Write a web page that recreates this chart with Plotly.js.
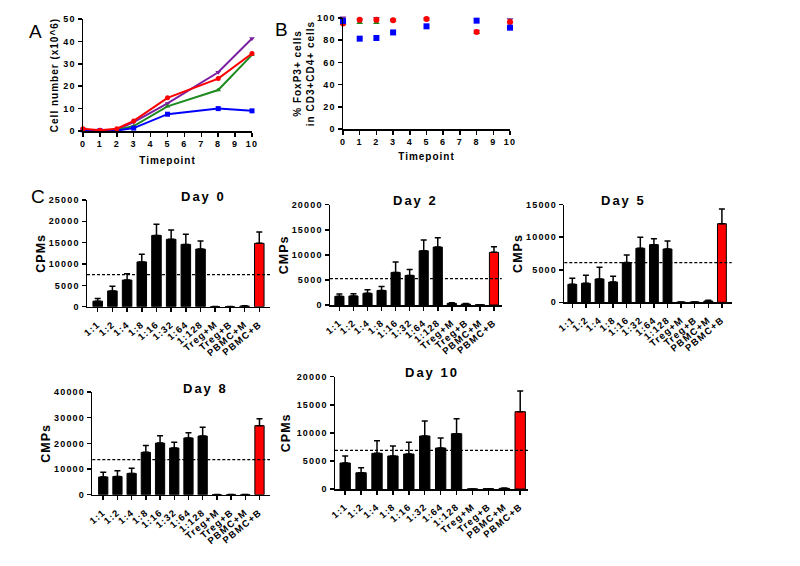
<!DOCTYPE html>
<html><head><meta charset="utf-8">
<script src="https://cdn.plot.ly/plotly-3.0.1.min.js"></script>
<style>
body{margin:0;padding:0;background:#fff;}
#chart{width:800px;height:566px;}
svg text{letter-spacing:1.2px;}
svg text[class$="title"]{letter-spacing:1px;}
svg text.annotation-text{letter-spacing:2px;}
</style>
</head><body>
<div id="chart"></div>
<script>
// Panel A: cell numbers
const timepoints = [0, 1, 2, 3, 5, 8, 10];
const cellsPurple = [0.5, 0.3, 0.5, 4, 12.3, 26.2, 41.3];
const cellsRed    = [1.0, 0.3, 1.0, 4.5, 14.8, 23.4, 34.6];
const cellsGreen  = [0.5, 0.3, 0.5, 2.2, 11.0, 18.3, 34.0];
const cellsBlue   = [0.5, 0.2, 0.2, 1.3, 7.5, 10.0, 9.0];

// Panel B: % FoxP3+
const foxPurple = [100, 98, 99.5, 98, 99, 88, 98.5];
const foxGreen  = [95, 96, 96, 98, 99, 87, 97];
const foxRed    = [95, 98.5, 98.5, 98, 99, 87.5, 96.5];
const foxBlue   = [97.3, 81.4, 82, 87, 92.5, 97.6, 91.3];

// Panel C: CPMs
const conditions = ["1:1","1:2","1:4","1:8","1:16","1:32","1:64","1:128","Treg+M","Treg+B","PBMC+M","PBMC+B"];
const day0  = [1300, 3700, 6250, 10500, 16700, 15800, 14600, 13500, 30, 30, 150, 14850];
const day0E = [600, 1100, 1450, 1800, 2600, 2200, 2400, 1900, 0, 0, 100, 2650];
const day2  = [1730, 1800, 2330, 2900, 6500, 5900, 10800, 11550, 330, 200, 50, 10500];
const day2E = [470, 460, 730, 800, 2070, 1200, 2150, 1850, 120, 100, 0, 1100];
const day5  = [2760, 2920, 3580, 3120, 6100, 8300, 8860, 8190, 30, 60, 200, 12080];
const day5E = [930, 1230, 1800, 880, 1170, 1680, 920, 1230, 0, 0, 100, 2250];
const day8  = [6900, 7100, 8300, 16500, 20100, 18200, 22100, 22860, 50, 100, 100, 26900];
const day8E = [1800, 2200, 1960, 2700, 2900, 2200, 2050, 3370, 0, 0, 0, 2700];
const day10  = [4630, 2900, 6350, 5880, 6230, 9440, 7300, 9850, 20, 60, 120, 13770];
const day10E = [1250, 900, 2250, 1780, 2080, 2660, 1780, 2670, 0, 0, 60, 3680];
const thresholds = [7500, 5250, 6100, 13640, 6880];
const dayTitles = ["Day 0", "Day 2", "Day 5", "Day 8", "Day 10"];
const dayYTitles = ["CPMs", "CMPs", "CMPs", "CMPs", "CPMs"];

const FONT = "Liberation Sans, Arial, sans-serif";
const purple = "#7b1fa2", red = "#ff0000", green = "#1f8a1f", blue = "#0000ff";
const W = 800, H = 566;
const px = v => v / W, py = v => 1 - v / H;

const traces = [];
function lineTrace(y, color, symbol){
  return {x: timepoints, y: y, type: "scatter", mode: "lines+markers", xaxis: "x", yaxis: "y",
    line: {color: color, width: 2}, marker: {color: color, size: 5, symbol: symbol}, showlegend: false, cliponaxis: false};
}
traces.push(lineTrace(cellsPurple, purple, "triangle-down"));
traces.push(lineTrace(cellsGreen, green, "triangle-up"));
traces.push(lineTrace(cellsBlue, blue, "square"));
traces.push(lineTrace(cellsRed, red, "circle"));

function dotTrace(y, color, symbol){
  return {x: timepoints, y: y, type: "scatter", mode: "markers", xaxis: "x2", yaxis: "y2",
    marker: {color: color, size: 6, symbol: symbol}, showlegend: false, cliponaxis: false};
}
traces.push(dotTrace(foxPurple, purple, "triangle-down"));
traces.push(dotTrace(foxGreen, green, "triangle-up"));
traces.push(dotTrace(foxRed, red, "circle"));
traces.push(dotTrace(foxBlue, blue, "square"));

const dayVals = [day0, day2, day5, day8, day10];
const dayErrs = [day0E, day2E, day5E, day8E, day10E];
const barColors = conditions.map(c => c === "PBMC+B" ? red : "#000000");
dayVals.forEach((vals, i) => {
  const n = i + 3;
  traces.push({x: conditions, y: vals, type: "bar", xaxis: "x" + n, yaxis: "y" + n,
    marker: {color: barColors, line: {color: "#000", width: 1}}, width: 0.65,
    error_y: {type: "data", symmetric: false, array: dayErrs[i], arrayminus: vals.map(() => 0),
      color: "#000", thickness: 1.5, width: 3},
    showlegend: false});
});

const axBase = {showline: true, linecolor: "#000", linewidth: 1.5, ticks: "outside", ticklen: 4,
  tickwidth: 1.5, tickcolor: "#000", showgrid: false, zeroline: false, tickformat: "d",
  tickfont: {family: FONT, size: 9, color: "#000", weight: "bold"}};
function titleObj(t, size, standoff){ return {text: t, standoff: standoff, font: {family: FONT, size: size, color: "#000", weight: "bold"}}; }

const layout = {
  width: W, height: H, margin: {l: 0, r: 0, t: 0, b: 0},
  paper_bgcolor: "#fff", plot_bgcolor: "#fff",
  xaxis: Object.assign({}, axBase, {domain: [px(83), px(252)], range: [0, 10], dtick: 1, tick0: 0, anchor: "y",
    title: titleObj("Timepoint", 10, 8)}),
  yaxis: Object.assign({}, axBase, {domain: [py(131), py(19)], range: [0, 50], dtick: 10, anchor: "x",
    title: titleObj("Cell number (x10^6)", 10, 3)}),
  xaxis2: Object.assign({}, axBase, {domain: [px(343), px(510)], range: [0, 10], dtick: 1, tick0: 0, anchor: "y2",
    title: titleObj("Timepoint", 10, 6)}),
  yaxis2: Object.assign({}, axBase, {domain: [py(129), py(18)], range: [0, 100], dtick: 20, anchor: "x2",
    title: titleObj("% FoxP3+ cells<br>in CD3+CD4+ cells", 10, 0)}),
  annotations: [
    {text: "A", x: px(27), y: py(19), xref: "paper", yref: "paper", showarrow: false, font: {family: FONT, size: 19, color: "#000"}},
    {text: "B", x: px(282), y: py(17), xref: "paper", yref: "paper", showarrow: false, font: {family: FONT, size: 19, color: "#000"}},
    {text: "C", x: px(29), y: py(196), xref: "paper", yref: "paper", showarrow: false, font: {family: FONT, size: 19, color: "#000"}}
  ],
  shapes: []
};

// pixel boxes [left, right, top, bottom]
const barBox = [[87, 270, 200, 306.7], [330, 501.7, 204.7, 305], [564.3, 731.7, 204.7, 302.3], [92.3, 270, 392, 494.7], [335, 528, 376.7, 489]];
const titleY = [196, 200, 200, 388, 372];
const barXR = [[-0.73, 11.73], [-0.67, 11.55], [-0.59, 11.72], [-0.77, 11.74], [-0.64, 11.49]];
const barYR = [[0, 25000, 5000], [0, 20000, 5000], [0, 15000, 5000], [0, 40000, 10000], [0, 20000, 5000]];
const titleStand = [0, 0, 0, 0, 3];
for (let i = 0; i < 5; i++) {
  const n = i + 3, b = barBox[i];
  layout["xaxis" + n] = Object.assign({}, axBase, {domain: [px(b[0]), px(b[1])], range: barXR[i], type: "category",
    tickangle: -40, ticklabelstandoff: 3, tickfont: {family: FONT, size: 9.5, color: "#000", weight: "bold"}, anchor: "y" + n});
  layout["yaxis" + n] = Object.assign({}, axBase, {domain: [py(b[3]), py(b[2])], range: [barYR[i][0], barYR[i][1]],
    dtick: barYR[i][2], anchor: "x" + n,
    title: titleObj(dayYTitles[i], 12.5, titleStand[i])});
  layout.shapes.push({type: "line", xref: "x" + n + " domain", x0: 0, x1: 1, yref: "y" + n,
    y0: thresholds[i], y1: thresholds[i], line: {color: "#000", width: 1.2, dash: "3px,2px"}});
  layout.annotations.push({text: dayTitles[i], xref: "paper", x: px((b[0] + b[1]) / 2), yref: "paper", y: py(titleY[i]),
    yanchor: "middle", showarrow: false, font: {family: FONT, size: 13, color: "#000", weight: "bold"}});
}

Plotly.newPlot("chart", traces, layout, {staticPlot: true});
</script>
</body></html>
